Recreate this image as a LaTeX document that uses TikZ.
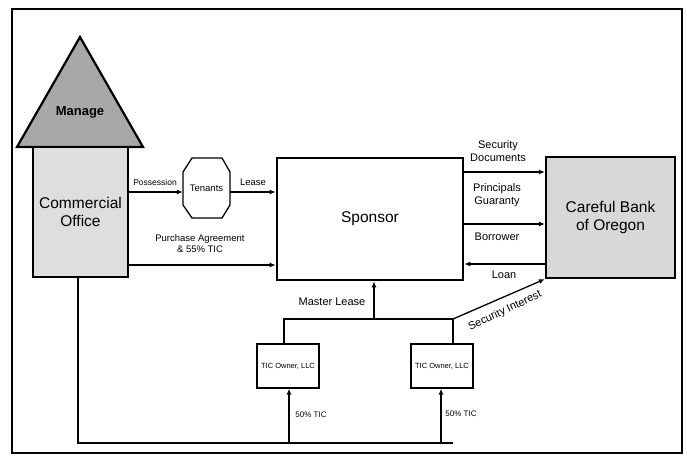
\documentclass[tikz,border=0pt]{standalone}
\usepackage{fontspec}
\setmainfont{Liberation Sans}
\usetikzlibrary{arrows.meta}
\definecolor{trigray}{HTML}{A8A8A8}
\definecolor{officegray}{HTML}{DEDEDE}
\definecolor{bankgray}{HTML}{D8D8D8}
\begin{document}
\begin{tikzpicture}[x=1pt,y=-1pt,
  box/.style={draw=black, line width=2.2pt, inner sep=0pt},
  thinbox/.style={draw=black, line width=1.3pt, inner sep=0pt},
  conn/.style={line width=1.3pt, -{Latex[length=6pt,width=5pt]}},
  plain/.style={line width=1.3pt},
  lbl/.style={font=\fontsize{9.5}{11}\selectfont, align=center, inner sep=1pt},
  rlbl/.style={font=\fontsize{11}{13.5}\selectfont, align=center, inner sep=1pt},
  big/.style={font=\fontsize{15.5}{18}\selectfont, align=center},
  small/.style={font=\fontsize{7.5}{9}\selectfont, align=center, inner sep=1pt},
]
\useasboundingbox (0,0) rectangle (687,456);
\draw[line width=1.2pt] (12,9) rectangle (682,453);

% Manage triangle
\draw[line width=2.2pt, fill=trigray, line join=miter] (17,147) -- (80,37) -- (143,147) -- cycle;
\node[font=\bfseries\fontsize{13}{15}\selectfont] (manage) at (80,112) {Manage};

% main boxes
\node[box, fill=officegray, minimum width=95pt, minimum height=130pt, big] (office) at (80.5,212) {Commercial\\Office};
\node[box, line width=2.6pt, fill=white, minimum width=186pt, minimum height=122pt, big] (sponsor) at (370,219) {Sponsor};
\node[box, fill=bankgray, minimum width=129pt, minimum height=121pt, big] (bank) at (610.5,217.5) {Careful Bank\\of Oregon};

% tenants octagon
\node[minimum width=47pt, minimum height=60pt, inner sep=0pt, lbl] (tenants) at (206.5,188) {Tenants};
\draw[line width=1.3pt] (192,158) -- (222,158) -- (230,172) -- (230,205) -- (222,218) -- (192,218) -- (183,205) -- (183,172) -- cycle;

% TIC owners
\node[thinbox, minimum width=62pt, minimum height=44pt, small] (tic1) at (288,366) {TIC Owner, LLC};
\node[thinbox, minimum width=62pt, minimum height=44pt, small] (tic2) at (442,366) {TIC Owner, LLC};

% left connectors
\coordinate (yp) at (0,192);
\coordinate (ypa) at (0,265);
\draw[conn] (office.east |- yp) -- (tenants.west |- yp);
\draw[conn] (tenants.east |- yp) -- (sponsor.west |- yp);
\draw[conn] (office.east |- ypa) -- (sponsor.west |- ypa);
\node[lbl, font=\fontsize{8.5}{10}\selectfont] (lposs) at (155,182) {Possession};
\node[lbl] (llease) at (253,182) {Lease};
\node[lbl] (lpurch) at (200,244) {Purchase Agreement\\\& 55\% TIC};

% sponsor - bank
\coordinate (ys) at (0,172);
\coordinate (yg) at (0,224);
\coordinate (yl) at (0,264);
\draw[conn] (sponsor.east |- ys) -- (bank.west |- ys);
\draw[conn] (sponsor.east |- yg) -- (bank.west |- yg);
\draw[conn] (bank.west |- yl) -- (sponsor.east |- yl);
\node[rlbl] (lsec) at (498,151) {Security\\Documents};
\node[rlbl] (lprin) at (497,195) {Principals\\Guaranty};
\node[rlbl] (lborr) at (497,237) {Borrower};
\node[rlbl] (lloan) at (504,275) {Loan};

% master lease
\coordinate (j1) at (284,319);
\coordinate (j2) at (453,319);
\coordinate (ml) at (374,319);
\draw[plain] (tic1.north -| j1) -- (j1) -- (j2) -- (tic2.north -| j2);
\draw[conn] (ml) -- (sponsor.south -| ml);
\node[rlbl] (lmaster) at (332,302) {Master Lease};

% security interest
\draw[conn] (j2) -- (bank.south west);
\node[rlbl, rotate=25.5, inner sep=0pt] (lsecint) at (505,311) {Security Interest};

% bottom line
\coordinate (b0) at (78,443);
\coordinate (bend) at (453,443);
\coordinate (a1) at (289,443);
\coordinate (a2) at (441,443);
\draw[plain] (office.south -| b0) -- (b0) -- (bend);
\draw[conn] (a1) -- (tic1.south -| a1);
\draw[conn] (a2) -- (tic2.south -| a2);
\node[small, font=\fontsize{8}{9}\selectfont] (lt1) at (311,415) {50\% TIC};
\node[small, font=\fontsize{8}{9}\selectfont] (lt2) at (461,414) {50\% TIC};
\end{tikzpicture}
\end{document}
